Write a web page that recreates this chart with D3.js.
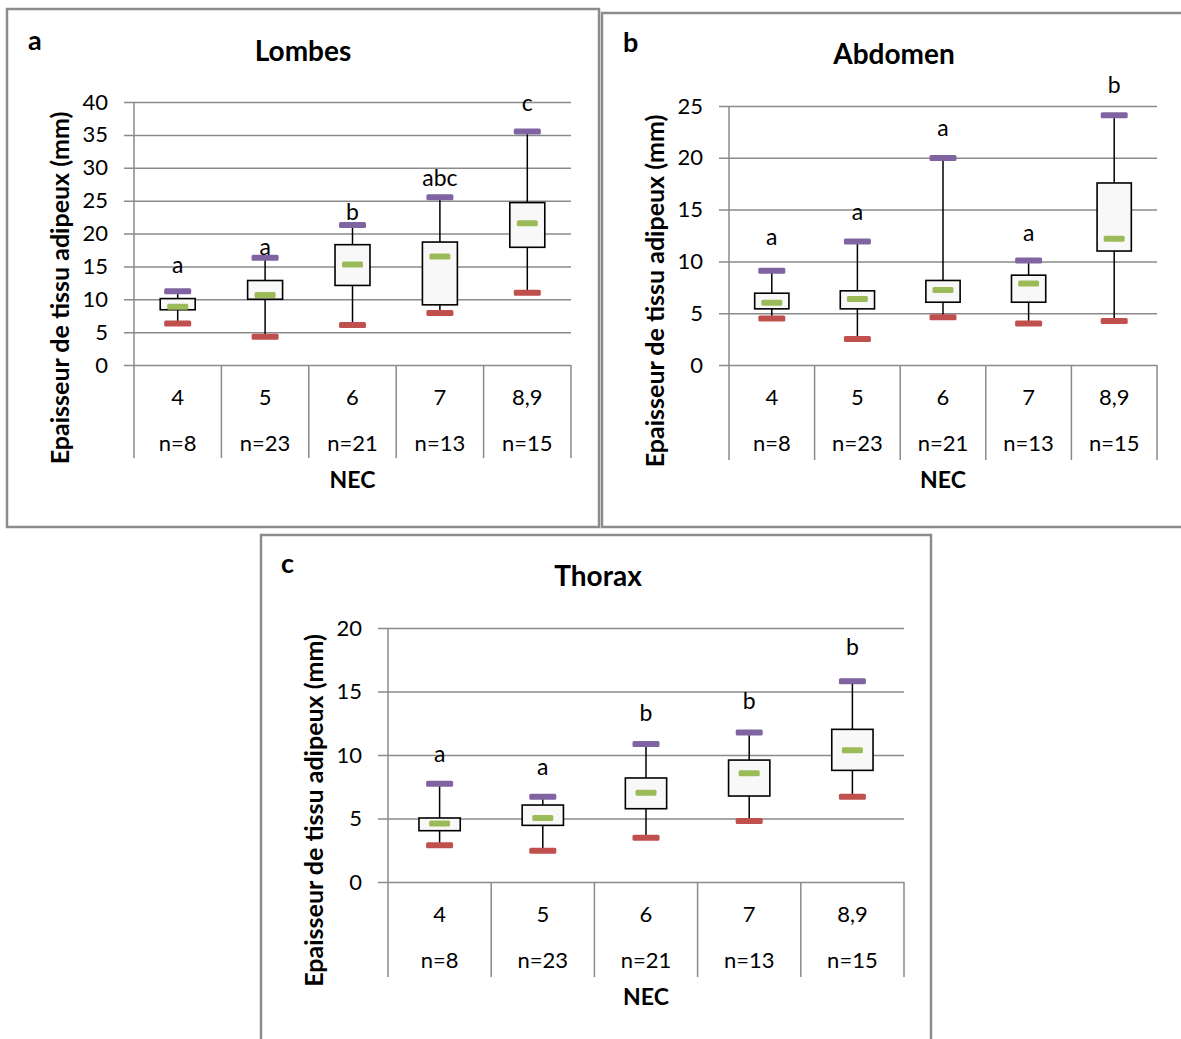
<!DOCTYPE html>
<html>
<head>
<meta charset="utf-8">
<script src="https://cdn.jsdelivr.net/npm/d3@7"></script>
<style>
  body { margin: 0; background: white; }
  text { font-family: Lato, "Open Sans", sans-serif; fill: black; }
</style>
</head>
<body>
<div id="chart"></div>
<script>
// categories (NEC) and sample sizes, shared by the three panels
var categories = ["4", "5", "6", "7", "8,9"];
var sampleSizes = ["n=8", "n=23", "n=21", "n=13", "n=15"];

// Lombes
var lombesMin = [6.3, 4.3, 6.1, 7.9, 11.0];
var lombesQ1 = [8.4, 10.0, 12.1, 9.15, 17.9];
var lombesMedian = [8.85, 10.65, 15.3, 16.5, 21.55];
var lombesQ3 = [10.1, 12.85, 18.3, 18.7, 24.7];
var lombesMax = [11.2, 16.3, 21.3, 25.5, 35.5];
var lombesLetters = ["a", "a", "b", "abc", "c"];
var lombesLetterAt = [14.0, 16.7, 22.05, 27.3, 38.7];
var lombesTicks = [0, 5, 10, 15, 20, 25, 30, 35, 40];

// Abdomen
var abdomenMin = [4.48, 2.51, 4.61, 4.0, 4.25];
var abdomenQ1 = [5.42, 5.42, 6.06, 6.06, 11.0];
var abdomenMedian = [6.0, 6.38, 7.25, 7.87, 12.19];
var abdomenQ3 = [6.93, 7.16, 8.16, 8.67, 17.57];
var abdomenMax = [9.09, 11.93, 19.99, 10.09, 24.1];
var abdomenLetters = ["a", "a", "a", "a", "b"];
var abdomenLetterAt = [11.54, 14.0, 22.08, 12.0, 26.3];
var abdomenTicks = [0, 5, 10, 15, 20, 25];

// Thorax
var thoraxMin = [2.89, 2.47, 3.49, 4.8, 6.72];
var thoraxQ1 = [4.04, 4.46, 5.77, 6.77, 8.79];
var thoraxMedian = [4.6, 5.04, 7.03, 8.56, 10.37];
var thoraxQ3 = [5.04, 6.06, 8.19, 9.6, 12.02];
var thoraxMax = [7.74, 6.72, 10.87, 11.78, 15.8];
var thoraxLetters = ["a", "a", "b", "b", "b"];
var thoraxLetterAt = [9.45, 8.45, 12.7, 13.65, 17.9];
var thoraxTicks = [0, 5, 10, 15, 20];

var width = 1181,
    height = 1039;

var gridColor = "#8a8a8a",
    frameColor = "#8c8c8c",
    maxColor = "#8064a2",
    minColor = "#c0504d",
    medColor = "#9bbb59";

var svg = d3.select("#chart").append("svg")
    .attr("width", width)
    .attr("height", height);

svg.append("rect")
    .attr("width", width)
    .attr("height", height)
    .attr("fill", "white");

function rows(min, q1, med, q3, max, letters, letterAt) {
    return categories.map(function (c, i) {
        return {cat: c, n: sampleSizes[i], min: min[i], q1: q1[i], med: med[i],
                q3: q3[i], max: max[i], letter: letters[i], letterAt: letterAt[i]};
    });
}

var panels = [
    {tag: "a", title: "Lombes", frame: [7, 9, 592, 518], plot: [134, 102, 571, 365],
     bottom: 458, ticks: lombesTicks, titleX: 303, titleY: 61, tagX: 28, tagY: 50, yLabelX: 59,
     data: rows(lombesMin, lombesQ1, lombesMedian, lombesQ3, lombesMax, lombesLetters, lombesLetterAt)},
    {tag: "b", title: "Abdomen", frame: [602, 13, 600, 514], plot: [729, 106, 1157, 365],
     bottom: 460, ticks: abdomenTicks, titleX: 894, titleY: 64, tagX: 623, tagY: 52, yLabelX: 654,
     data: rows(abdomenMin, abdomenQ1, abdomenMedian, abdomenQ3, abdomenMax, abdomenLetters, abdomenLetterAt)},
    {tag: "c", title: "Thorax", frame: [261, 535, 670, 530], plot: [388, 628, 904, 882],
     bottom: 977, ticks: thoraxTicks, titleX: 598, titleY: 586, tagX: 281, tagY: 573, yLabelX: 313,
     data: rows(thoraxMin, thoraxQ1, thoraxMedian, thoraxQ3, thoraxMax, thoraxLetters, thoraxLetterAt)}
];

panels.forEach(drawPanel);

function drawPanel(p) {
    var g = svg.append("g");
    var x0 = p.plot[0], y1 = p.plot[1], x1 = p.plot[2], y0 = p.plot[3];

    // chart area border
    g.append("rect")
        .attr("x", p.frame[0]).attr("y", p.frame[1])
        .attr("width", p.frame[2]).attr("height", p.frame[3])
        .attr("fill", "white")
        .attr("stroke", frameColor)
        .attr("stroke-width", 2.5);

    var x = d3.scaleBand()
        .domain(categories)
        .range([x0, x1])
        .paddingInner(0)
        .paddingOuter(0);

    var y = d3.scaleLinear()
        .domain([0, d3.max(p.ticks)])
        .range([y0, y1]);

    // gridlines + tick labels
    var yAxis = d3.axisLeft(y)
        .tickValues(p.ticks)
        .tickSize(-(x1 - x0 + 10))
        .tickPadding(16)
        .tickFormat(d3.format("d"));

    var ya = g.append("g")
        .attr("transform", "translate(" + x1 + ",0)")
        .call(yAxis);
    ya.select(".domain").remove();
    ya.selectAll("line")
        .attr("x1", 0).attr("x2", -(x1 - x0 + 10))
        .attr("stroke", gridColor).attr("stroke-width", 1.5);
    ya.selectAll("text")
        .attr("x", -(x1 - x0 + 26))
        .attr("font-size", "22px")
        .attr("fill", "black");

    // vertical axis line and category dividers
    g.append("line")
        .attr("x1", x0).attr("x2", x0)
        .attr("y1", y1).attr("y2", p.bottom)
        .attr("stroke", gridColor).attr("stroke-width", 1.5);

    var edges = categories.map(function (c) { return x(c) + x.bandwidth(); });
    g.selectAll(".divider")
        .data(edges)
        .enter().append("line")
        .attr("x1", function (d) { return d; })
        .attr("x2", function (d) { return d; })
        .attr("y1", y0).attr("y2", p.bottom)
        .attr("stroke", gridColor).attr("stroke-width", 1.5);

    // category labels (two rows)
    g.selectAll(".cat")
        .data(p.data)
        .enter().append("text")
        .attr("x", function (d) { return x(d.cat) + x.bandwidth() / 2; })
        .attr("y", y0 + 31)
        .attr("text-anchor", "middle")
        .attr("dominant-baseline", "central")
        .attr("font-size", "22px")
        .text(function (d) { return d.cat; });

    g.selectAll(".n")
        .data(p.data)
        .enter().append("text")
        .attr("x", function (d) { return x(d.cat) + x.bandwidth() / 2; })
        .attr("y", y0 + 77)
        .attr("text-anchor", "middle")
        .attr("dominant-baseline", "central")
        .attr("font-size", "22px")
        .text(function (d) { return d.n; });

    g.append("text")
        .attr("x", (x0 + x1) / 2)
        .attr("y", y0 + 114)
        .attr("text-anchor", "middle")
        .attr("dominant-baseline", "central")
        .attr("font-size", "23px")
        .attr("font-weight", "bold")
        .text("NEC");

    g.append("text")
        .attr("transform", "translate(" + p.yLabelX + "," + ((y1 + p.bottom) / 2 + 8) + ") rotate(-90)")
        .attr("text-anchor", "middle")
        .attr("dominant-baseline", "central")
        .attr("font-size", "25px")
        .attr("font-weight", "bold")
        .text("Epaisseur de tissu adipeux (mm)");

    g.append("text")
        .attr("x", p.titleX)
        .attr("y", p.titleY)
        .attr("text-anchor", "middle")
        .attr("font-size", "28px")
        .attr("font-weight", "bold")
        .text(p.title);

    g.append("text")
        .attr("x", p.tagX)
        .attr("y", p.tagY)
        .attr("font-size", "27px")
        .attr("font-weight", "bold")
        .text(p.tag);

    var cx = function (d) { return x(d.cat) + x.bandwidth() / 2; };
    var boxW = x.bandwidth() * 0.4;

    // whiskers
    var boxes = g.selectAll(".box")
        .data(p.data)
        .enter().append("g");

    boxes.append("line")
        .attr("x1", cx).attr("x2", cx)
        .attr("y1", function (d) { return y(d.q3); })
        .attr("y2", function (d) { return y(d.max); })
        .attr("stroke", "black").attr("stroke-width", 1.5);
    boxes.append("line")
        .attr("x1", cx).attr("x2", cx)
        .attr("y1", function (d) { return y(d.q1); })
        .attr("y2", function (d) { return y(d.min); })
        .attr("stroke", "black").attr("stroke-width", 1.5);

    boxes.append("rect")
        .attr("x", function (d) { return cx(d) - boxW / 2; })
        .attr("y", function (d) { return y(d.q3); })
        .attr("width", boxW)
        .attr("height", function (d) { return y(d.q1) - y(d.q3); })
        .attr("fill", "#f8f8f8")
        .attr("stroke", "black")
        .attr("stroke-width", 1.6);

    // markers: max, min, median
    function marker(key, w, color) {
        boxes.append("rect")
            .attr("x", function (d) { return cx(d) - w / 2; })
            .attr("y", function (d) { return y(d[key]) - 3; })
            .attr("width", w)
            .attr("height", 6)
            .attr("rx", 1.5)
            .attr("fill", color);
    }
    marker("max", 27, maxColor);
    marker("min", 27, minColor);
    marker("med", 21, medColor);

    // significance letters
    boxes.append("text")
        .attr("x", cx)
        .attr("y", function (d) { return y(d.letterAt); })
        .attr("text-anchor", "middle")
        .attr("font-size", "23px")
        .text(function (d) { return d.letter; });
}
</script>
</body>
</html>
